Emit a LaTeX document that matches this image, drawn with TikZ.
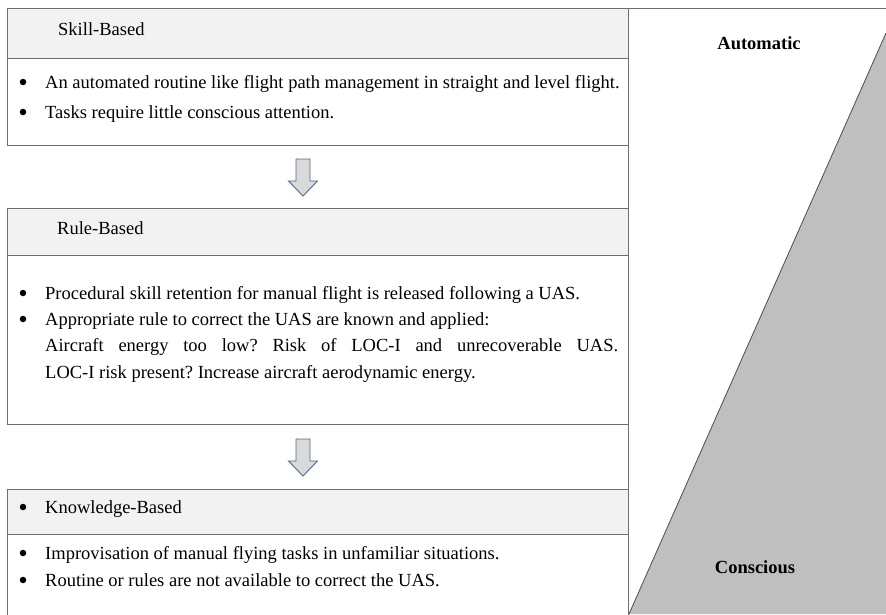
\documentclass[tikz,border=0pt]{standalone}
\usepackage{fontspec}
\setmainfont{Liberation Serif}
\usepackage{tikz}
\frenchspacing

\definecolor{headgray}{HTML}{F2F2F2}
\definecolor{linegray}{HTML}{6E6E6E}
\definecolor{arrowfill}{HTML}{D9D9D9}
\definecolor{arrowline}{HTML}{4F6793}
\definecolor{wedgegray}{HTML}{BFBFBF}

\tikzset{
  headbox/.style={fill=headgray, draw=linegray, line width=1pt},
  bodybox/.style={draw=linegray, line width=1pt},
  txt/.style={anchor=base west, inner sep=0pt, font=\fontsize{18.5}{22}\selectfont},
  bul/.style={circle, fill=black, inner sep=0pt, minimum size=6.5pt},
  lbl/.style={inner sep=0pt, font=\fontsize{18.5}{22}\selectfont\bfseries},
  blockarrow/.style={fill=arrowfill, draw=arrowline, line width=0.9pt, line join=miter},
}

\begin{document}
\begin{tikzpicture}[x=1pt,y=-1pt]
    \useasboundingbox (0,0) rectangle (886,614);
    \clip (0,0) rectangle (886,614);

    % Define the corners of the frame
    \coordinate (TL) at (7,8.5);
    \coordinate (TM) at (628,8.5);
    \coordinate (TR) at (890,8.5);
    \coordinate (BM) at (628,620);

    % Right panel: grey wedge
    \coordinate (W1) at (886,33);
    \coordinate (W2) at (629,614);
    \coordinate (W3) at (890,614);
    \fill[wedgegray] (W1) -- (W2) -- (W3) -- (890,33) -- cycle;
    \draw[black!70, line width=0.8pt] (W1) -- (W2);

    % Skill-Based box
    \draw[headbox] (7,8.5) rectangle (628,58);
    \draw[bodybox] (7,58) rectangle (628,145);
    % Rule-Based box
    \draw[headbox] (7,208) rectangle (628,255);
    \draw[bodybox] (7,255) rectangle (628,424);
    % Knowledge-Based box
    \draw[headbox] (7,489) rectangle (628,534);
    \draw[bodybox] (7,534) rectangle (628,620);

    % Frame lines
    \draw[linegray, line width=1pt] (TL) -- (TR);
    \draw[linegray, line width=1pt] (TM) -- (BM);

    % Block arrows between the boxes
    \foreach \ay in {159,439}
        \draw[blockarrow] (296,\ay) -- (310,\ay) -- (310,\ay+22) -- (317.5,\ay+22)
            -- (303,\ay+37) -- (288.5,\ay+22) -- (296,\ay+22) -- cycle;

    % Skill-Based text
    \node[txt] (skill) at (58,35) {Skill-Based};
    \node[bul] (sb1) at (23,82) {};
    \node[txt] (s1) at (45,88) {An automated routine like flight path management in straight and level flight.};
    \node[bul] (sb2) at (23,112) {};
    \node[txt] (s2) at (45,118) {Tasks require little conscious attention.};

    % Rule-Based text
    \node[txt] (rule) at (57,234) {Rule-Based};
    \node[bul] (rb1) at (23,293) {};
    \node[txt] (r1) at (45,299) {Procedural skill retention for manual flight is released following a UAS.};
    \node[bul] (rb2) at (23,319) {};
    \node[txt] (r2) at (45,325) {Appropriate rule to correct the UAS are known and applied:};
    \node[txt] (r3) at (45,351) {\makebox[573pt][s]{Aircraft energy too low? Risk of LOC-I and unrecoverable UAS.}};
    \node[txt] (r4) at (45,378) {LOC-I risk present? Increase aircraft aerodynamic energy.};

    % Knowledge-Based text
    \node[bul] (kb0) at (23,507) {};
    \node[txt] (know) at (45,513) {Knowledge-Based};
    \node[bul] (kb1) at (23,553) {};
    \node[txt] (k1) at (45,559) {Improvisation of manual flying tasks in unfamiliar situations.};
    \node[bul] (kb2) at (23,580) {};
    \node[txt] (k2) at (45,586) {Routine or rules are not available to correct the UAS.};

    % Labels of the right panel
    \node[lbl] (auto) at (759,43) {Automatic};
    \node[lbl] (consc) at (755,567) {Conscious};
\end{tikzpicture}
\end{document}
